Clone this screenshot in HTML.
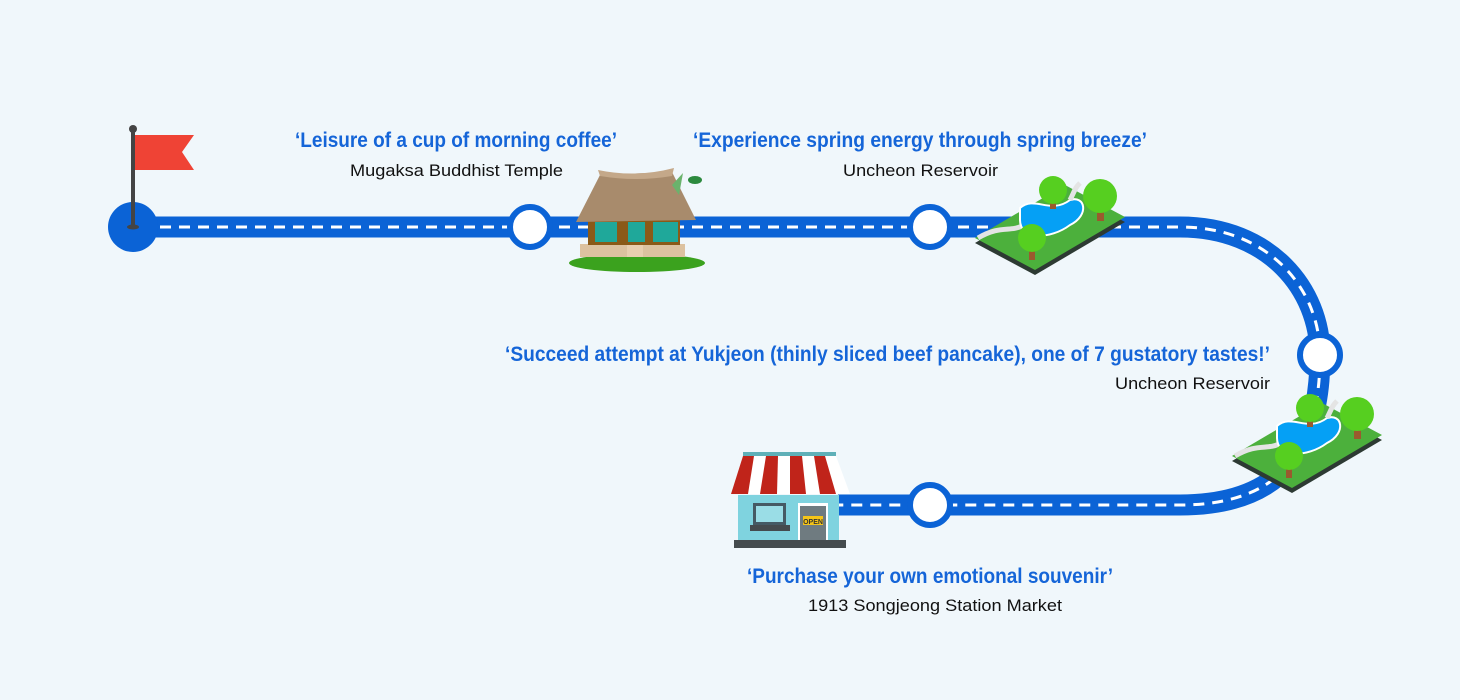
<!DOCTYPE html>
<html><head><meta charset="utf-8"><style>
html,body{margin:0;padding:0;background:#f0f7fb;}
svg{display:block;}
.b{font-family:"Liberation Sans",sans-serif;font-weight:bold;fill:#1565d8;font-size:21px;}
.k{font-family:"Liberation Sans",sans-serif;fill:#111;font-size:17px;}
</style></head><body>
<svg width="1460" height="700" viewBox="0 0 1460 700" xmlns="http://www.w3.org/2000/svg">
<rect width="1460" height="700" fill="#f0f7fb"/>
<defs>
<g id="park">
  <polygon points="975,243 1065,190 1125,222 1035,275" fill="#2d3a33"/>
  <polygon points="975,238 1065,185 1125,217 1035,270" fill="#4cb03c"/>
  <path d="M978,238 C1000,225 1010,232 1022,226" stroke="#e4e4e4" stroke-width="5" fill="none"/>
  <path d="M1020,208 C1035,195 1050,215 1070,200 C1085,195 1090,215 1070,225 C1050,240 1020,240 1020,220 Z" fill="#05a0f5" stroke="#fff" stroke-width="2"/>
  <path d="M1070,200 C1075,190 1075,188 1080,183" stroke="#e4e4e4" stroke-width="5" fill="none"/>
  <rect x="1050" y="195" width="6" height="14" fill="#9a5a2e"/>
  <circle cx="1053" cy="190" r="14" fill="#56cf20"/>
  <rect x="1097" y="205" width="7" height="16" fill="#9a5a2e"/>
  <circle cx="1100" cy="196" r="17" fill="#56cf20"/>
  <rect x="1029" y="245" width="6" height="15" fill="#9a5a2e"/>
  <circle cx="1032" cy="238" r="14" fill="#56cf20"/>
</g>
</defs>
<!-- road -->
<path d="M133,227 H1180 C1270,227 1320,290 1320,355 C1320,440 1290,505 1180,505 H838" fill="none" stroke="#0b63d6" stroke-width="21"/>
<path d="M160,227 H1180 C1270,227 1320,290 1320,355 C1320,440 1290,505 1180,505 H838" fill="none" stroke="#fff" stroke-width="3" stroke-dasharray="11,8"/>
<!-- start -->
<circle cx="133" cy="227" r="25" fill="#0b63d6"/>
<rect x="131" y="130" width="4" height="97" fill="#444"/>
<circle cx="133" cy="129" r="4" fill="#444"/>
<ellipse cx="133" cy="227" rx="6" ry="2.5" fill="#444"/>
<polygon points="135,135 194,135 182,152 194,170 135,170" fill="#ef4335"/>
<!-- stops -->
<g fill="#fff" stroke="#0b63d6" stroke-width="6">
<circle cx="530" cy="227" r="20"/>
<circle cx="930" cy="227" r="20"/>
<circle cx="1320" cy="355" r="20"/>
<circle cx="930" cy="505" r="20"/>
</g>
<!-- temple -->
<ellipse cx="637" cy="263" rx="68" ry="9" fill="#3ba21e"/>
<rect x="580" y="244" width="105" height="13" fill="#dcc2a0"/>
<rect x="627" y="244" width="16" height="13" fill="#e8cfb0"/>
<rect x="588" y="220" width="92" height="25" fill="#8a5a18"/>
<g fill="#1fa89a"><rect x="595" y="222" width="22" height="20"/><rect x="628" y="222" width="17" height="20"/><rect x="653" y="222" width="25" height="20"/></g>
<polygon points="600,175 672,172 696,220 576,222" fill="#a88b6c"/>
<path d="M598,170 Q636,178 674,168 L672,176 Q636,182 600,176 Z" fill="#c4a889"/>
<polygon points="672,185 683,173 679,195" fill="#6ab36c"/>
<ellipse cx="695" cy="180" rx="7" ry="4" fill="#2c8a3e"/>
<!-- parks -->
<use href="#park"/>
<use href="#park" transform="translate(257,218)"/>
<!-- shop -->
<rect x="738" y="495" width="101" height="45" fill="#7fd3df"/>
<rect x="734" y="540" width="112" height="8" fill="#444b4e"/>
<rect x="753" y="503" width="33" height="22" fill="#455a64"/>
<rect x="756" y="506" width="27" height="16" fill="#9adde6"/>
<rect x="750" y="525" width="40" height="6" fill="#444b4e"/>
<rect x="798" y="503" width="30" height="37" fill="#fff"/>
<rect x="800" y="506" width="26" height="34" fill="#6f7b80"/>
<rect x="803" y="516" width="20" height="9" fill="#f5c518"/>
<text x="813" y="524" font-size="7" font-family="Liberation Sans" font-weight="bold" text-anchor="middle" fill="#333">OPEN</text>
<rect x="743" y="452" width="93" height="4" fill="#5fb0b8"/>
<polygon points="743,456 836,456 850,494 731,494" fill="#fff"/>
<g fill="#c0241a">
<polygon points="743,456 754,456 748,494 731,494"/>
<polygon points="766,456 778,456 777,494 760,494"/>
<polygon points="790,456 802,456 806,494 790,494"/>
<polygon points="814,456 825,456 836,494 820,494"/>
</g>
<!-- texts -->
<text class="b" x="295" y="147" textLength="322" lengthAdjust="spacingAndGlyphs">‘Leisure of a cup of morning coffee’</text>
<text class="k" x="350" y="176" textLength="213" lengthAdjust="spacingAndGlyphs">Mugaksa Buddhist Temple</text>
<text class="b" x="693" y="147" textLength="454" lengthAdjust="spacingAndGlyphs">‘Experience spring energy through spring breeze’</text>
<text class="k" x="843" y="176" textLength="155" lengthAdjust="spacingAndGlyphs">Uncheon Reservoir</text>
<text class="b" x="505" y="361" textLength="765" lengthAdjust="spacingAndGlyphs">‘Succeed attempt at Yukjeon (thinly sliced beef pancake), one of 7 gustatory tastes!’</text>
<text class="k" x="1115" y="389" textLength="155" lengthAdjust="spacingAndGlyphs">Uncheon Reservoir</text>
<text class="b" x="747" y="583" textLength="366" lengthAdjust="spacingAndGlyphs">‘Purchase your own emotional souvenir’</text>
<text class="k" x="808" y="611" textLength="254" lengthAdjust="spacingAndGlyphs">1913 Songjeong Station Market</text>
</svg>
</body></html>
